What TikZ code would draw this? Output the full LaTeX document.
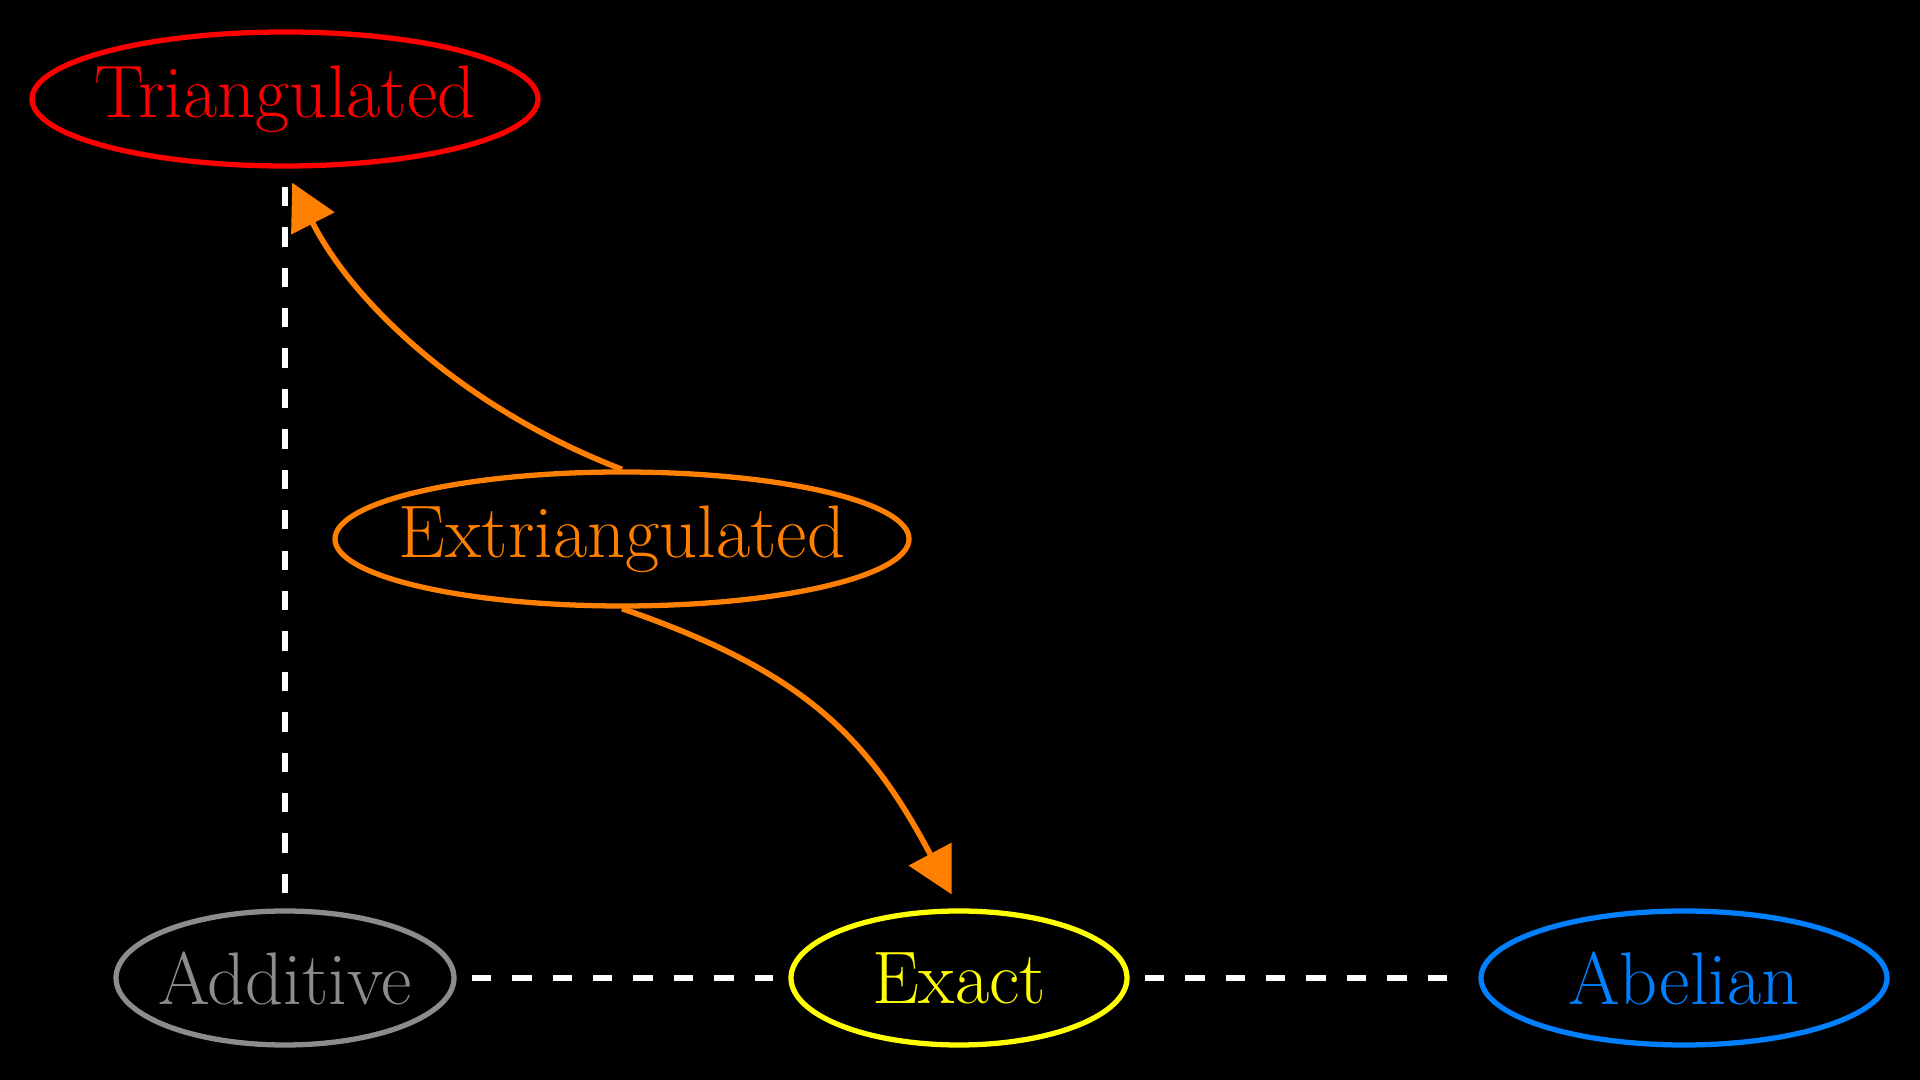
\documentclass[tikz,border=0pt]{standalone}
\usepackage{tikz}
\usetikzlibrary{arrows.meta,shapes.geometric}
\usepackage{xcolor}
\definecolor{catred}{HTML}{FF0000}
\definecolor{catorange}{HTML}{FF7F00}
\definecolor{catgray}{HTML}{8C8C8C}
\definecolor{catyellow}{HTML}{FFFF00}
\definecolor{catblue}{HTML}{0080FF}

\begin{document}
\begin{tikzpicture}[
    cat/.style={ellipse,draw,line width=1.5pt,inner sep=0pt,minimum height=1.34cm,
      font=\fontsize{21.2}{25}\selectfont},
    linkdash/.style={white,line width=1.6pt,dash pattern=on 5.5pt off 6pt,
      shorten <=4.3pt,shorten >=4.3pt},
    linkarrow/.style={catorange,line width=1.6pt,
      -{Triangle[length=13pt,width=13.5pt]},shorten >=4.5pt}]
        \fill[black](0,0)rectangle(19.2,10.8);
        \useasboundingbox(0,0)rectangle(19.2,10.8);
        % Nodos
        \node[cat,catred,minimum width=5.06cm,inner xsep=-0.12cm](tri)at(2.85,9.81){Triangulated};
        \node[cat,catorange,minimum width=5.74cm,inner xsep=-0.21cm](ext)at(6.22,5.41){Extriangulated};
        \node[cat,catgray,minimum width=3.38cm,inner xsep=-0.078cm](add)at(2.85,1.02){Additive};
        \node[cat,catyellow,minimum width=3.36cm](exa)at(9.59,1.02){Exact};
        \node[cat,catblue,minimum width=4.06cm](abe)at(16.84,1.02){Abelian};
        % Lineas discontinuas
        \draw[linkdash](add.north)--(tri.south);
        \draw[linkdash](add)--(exa);
        \draw[linkdash](exa)--(abe);
        % Flechas
        \draw[linkarrow](ext.north)to[out=159,in=-63,looseness=0.9](tri.south);
        \draw[linkarrow](ext.south)to[out=-19,in=118,looseness=1.1](exa.north);
      \end{tikzpicture}
\end{document}
